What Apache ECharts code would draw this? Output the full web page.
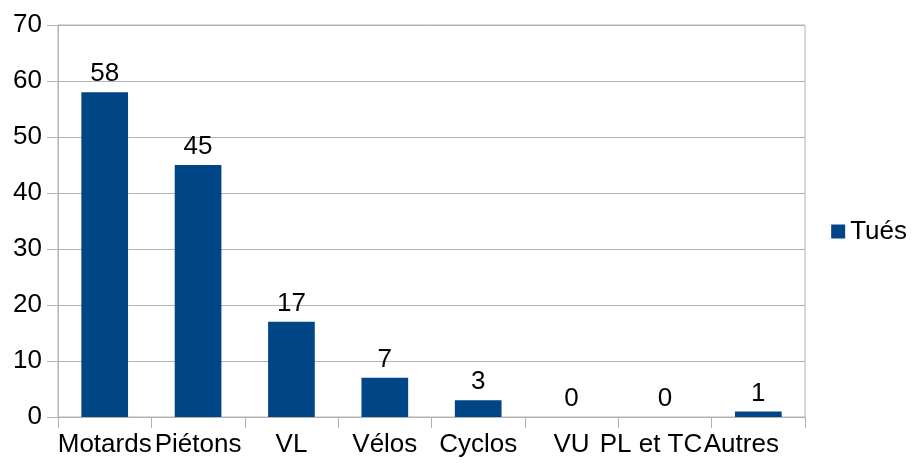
<!DOCTYPE html>
<html>
<head>
<meta charset="utf-8">
<script src="https://cdn.jsdelivr.net/npm/echarts@6/dist/echarts.min.js"></script>
<style>
  html, body { margin: 0; padding: 0; background: #fff; }
  #chart { width: 918px; height: 463px; }
</style>
</head>
<body>
<div id="chart"></div>
<script>
var categories = ['Motards', 'Piétons', 'VL', 'Vélos', 'Cyclos', 'VU', 'PL et TC', 'Autres'];
var tues = [58, 45, 17, 7, 3, 0, 0, 1];
var seriesName = 'Tués';

var chart = echarts.init(document.getElementById('chart'));
var font = 'Liberation Sans, Arial, sans-serif';
var grey = '#b3b3b3';

// LibreOffice nudged the last two labels left to avoid overlap
var labelShift = { 'PL et TC': 28, 'Autres': 34 };
var catData = categories.map(function (c) {
  var s = labelShift[c];
  return s ? { value: c, textStyle: { padding: [0, s, 0, 0] } } : c;
});

chart.setOption({
  animation: false,
  textStyle: { fontFamily: font },
  grid: {
    left: 58, right: 113, top: 25, bottom: 46,
    show: true, borderColor: grey, borderWidth: 1
  },
  legend: {
    right: 6, top: 'middle',
    orient: 'vertical',
    icon: 'rect', itemWidth: 14, itemHeight: 14, itemGap: 6,
    textStyle: { fontSize: 26, color: '#000', fontFamily: font },
    data: [seriesName]
  },
  xAxis: {
    type: 'category',
    data: catData,
    axisLine: { lineStyle: { color: grey } },
    axisTick: { show: true, length: 11, lineStyle: { color: grey } },
    axisLabel: { interval: 0, hideOverlap: false, fontSize: 26, color: '#000', margin: 15, fontFamily: font }
  },
  yAxis: {
    type: 'value',
    min: 0, max: 70, interval: 10,
    axisLine: { show: true, lineStyle: { color: grey } },
    axisTick: { show: true, length: 11, lineStyle: { color: grey } },
    splitLine: { lineStyle: { color: grey } },
    axisLabel: { fontSize: 26, color: '#000', margin: 16, fontFamily: font }
  },
  series: [{
    name: seriesName,
    type: 'bar',
    data: tues,
    barCategoryGap: '50%',
    itemStyle: { color: '#004586' },
    label: { show: true, position: 'top', distance: 5, fontSize: 26, color: '#000', fontFamily: font }
  }]
});
</script>
</body>
</html>
